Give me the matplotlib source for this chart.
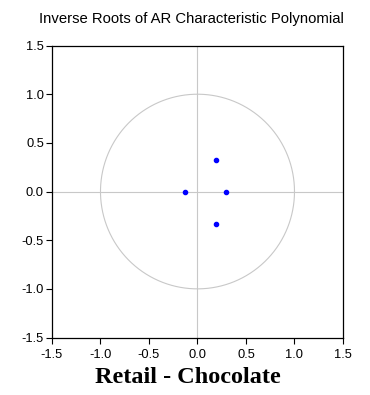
import numpy as np
import matplotlib
matplotlib.use("Agg")
import matplotlib.pyplot as plt

root_re = [0.19, -0.125, 0.29, 0.19]
root_im = [0.32, 0.0, 0.0, -0.33]
ticks = [-1.5, -1.0, -0.5, 0.0, 0.5, 1.0, 1.5]
tick_labels = ["-1.5", "-1.0", "-0.5", "0.0", "0.5", "1.0", "1.5"]

plt.rcParams['font.family'] = ['Liberation Sans', 'DejaVu Sans']
fig = plt.figure(figsize=(3.7, 3.95), dpi=100)
ax = fig.add_axes([0.1405, 0.1455, 0.7865, 0.7392])
theta = np.linspace(0, 2 * np.pi, 400)
ax.plot(np.cos(theta), np.sin(theta), color='#c8c8c8', lw=0.8)
ax.axhline(0, color='#c8c8c8', lw=0.8)
ax.axvline(0, color='#c8c8c8', lw=0.8)
ax.scatter(root_re, root_im, s=9, color='#0000ff', zorder=3)
ax.set_xlim(-1.5, 1.5)
ax.set_ylim(-1.5, 1.5)
ax.set_xticks(ticks)
ax.set_xticklabels(tick_labels)
ax.set_yticks(ticks)
ax.set_yticklabels(tick_labels)
ax.tick_params(direction='out', length=4.3, width=0.8, labelsize=9.3,
               top=False, right=False)
ax.tick_params(axis='y', pad=1.5)
ax.tick_params(axis='x', pad=4)
for s in ax.spines.values():
    s.set_linewidth(0.9)
fig.text(191.5 / 370, 1 - 22.5 / 395, "Inverse Roots of AR Characteristic Polynomial",
         fontsize=10.7, ha='center', va='baseline')
fig.text(187.5 / 370, 1 - 383 / 395, "Retail - Chocolate", fontsize=17.5,
         fontweight='bold', family=['Liberation Serif', 'DejaVu Serif'],
         ha='center', va='baseline')
fig.savefig("out.png", dpi=100)
